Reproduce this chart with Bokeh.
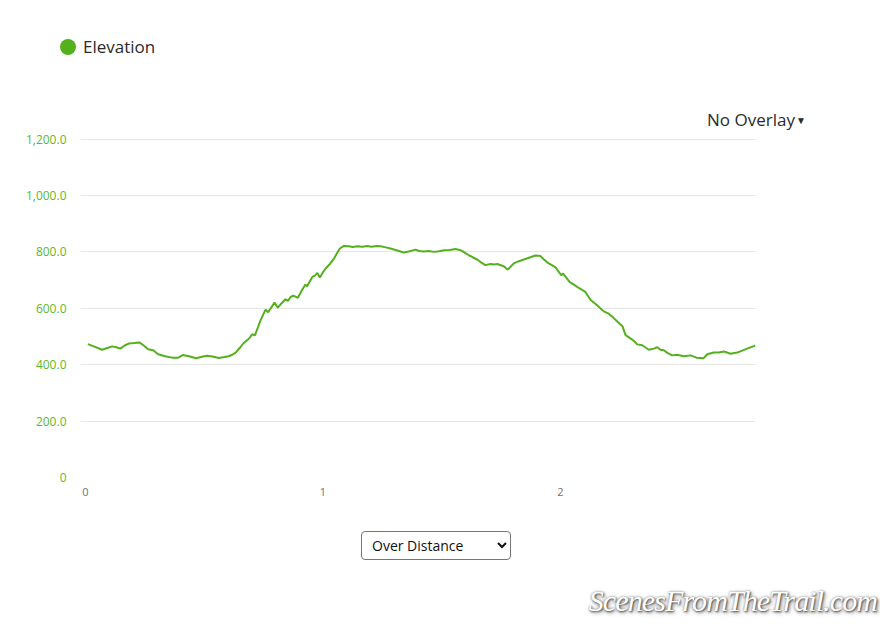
from bokeh.plotting import figure
from bokeh.layouts import column
from bokeh.models import Range1d, FixedTicker, ColumnDataSource, Div
from bokeh.embed import file_html
from bokeh.resources import INLINE

# ---- data ----
distance_km = [0.010, 0.040, 0.070, 0.095, 0.112, 0.130, 0.147, 0.165, 0.182, 0.205,
               0.227, 0.245, 0.264, 0.285, 0.306, 0.335, 0.365, 0.390, 0.410, 0.440,
               0.466, 0.490, 0.512, 0.540, 0.561, 0.585, 0.603, 0.620, 0.632, 0.650,
               0.665, 0.688, 0.702, 0.713, 0.725, 0.737, 0.758, 0.769, 0.784, 0.796,
               0.810, 0.826, 0.842, 0.852, 0.864, 0.875, 0.894, 0.910, 0.926, 0.933,
               0.955, 0.966, 0.976, 0.987, 1.000, 1.011, 1.030, 1.046, 1.060, 1.071,
               1.088, 1.110, 1.125, 1.144, 1.165, 1.186, 1.205, 1.225, 1.242, 1.265,
               1.284, 1.310, 1.340, 1.365, 1.389, 1.405, 1.424, 1.445, 1.467, 1.490,
               1.509, 1.535, 1.558, 1.579, 1.595, 1.614, 1.630, 1.649, 1.665, 1.684,
               1.705, 1.720, 1.734, 1.761, 1.778, 1.803, 1.825, 1.846, 1.870, 1.895,
               1.916, 1.930, 1.945, 1.962, 1.979, 2.003, 2.011, 2.025, 2.039, 2.058,
               2.077, 2.105, 2.126, 2.154, 2.182, 2.203, 2.222, 2.240, 2.261, 2.274,
               2.302, 2.323, 2.344, 2.372, 2.393, 2.407, 2.421, 2.435, 2.450, 2.470,
               2.491, 2.519, 2.547, 2.573, 2.603, 2.618, 2.645, 2.667, 2.688, 2.716,
               2.744, 2.765, 2.786, 2.805, 2.820]
elevation_m = [473, 463, 453, 460, 465, 462, 457, 468, 475, 477,
               479, 468, 455, 451, 437, 430, 425, 425, 434, 429,
               423, 428, 432, 428, 424, 427, 430, 436, 443, 460,
               476, 492, 508, 504, 530, 557, 595, 586, 605, 620,
               602, 618, 632, 626, 640, 645, 637, 662, 684, 678,
               711, 716, 725, 709, 728, 741, 758, 776, 797, 812,
               821, 820, 817, 820, 818, 821, 818, 821, 820, 816,
               812, 806, 798, 802, 808, 803, 801, 803, 800, 802,
               806, 807, 810, 806, 798, 788, 781, 773, 763, 753,
               757, 755, 757, 749, 737, 759, 767, 773, 780, 787,
               785, 773, 762, 754, 745, 717, 723, 708, 693, 683,
               672, 658, 630, 611, 589, 581, 567, 552, 536, 505,
               489, 472, 469, 453, 457, 462, 453, 451, 442, 433,
               435, 430, 433, 425, 423, 437, 443, 443, 447, 439,
               443, 450, 457, 463, 467]

y_ticks = [0, 200, 400, 600, 800, 1000, 1200]
y_tick_labels = ["0", "200.0", "400.0", "600.0", "800.0", "1,000.0", "1,200.0"]
x_ticks = [0, 1, 2]
x_tick_labels = ["0", "1", "2"]
series_name = "Elevation"
overlay_text = "No Overlay"
select_text = "Over Distance"
watermark_text = "ScenesFromTheTrail.com"

GREEN = "#55b01d"
LABEL_GREEN = "#5cb82a"
W = 880

# ---------- header: legend + overlay menu ----------
HEAD_H = 130
head_html = f"""
<div style="position:relative;width:{W}px;height:{HEAD_H}px;font-family:'Open Sans',sans-serif;overflow:hidden;">
  <span style="position:absolute;left:60px;top:39px;width:16px;height:16px;border-radius:50%;background:{GREEN};"></span>
  <span style="position:absolute;left:83px;top:36px;font-size:17px;line-height:22px;color:#2a2a2a;white-space:nowrap;">{series_name}</span>
  <span style="position:absolute;left:707px;top:109px;font-size:17px;line-height:22px;color:#2a2a2a;white-space:nowrap;">{overlay_text}<span style="font-size:10px;vertical-align:2px;margin-left:1px;">&#9660;</span></span>
</div>
"""
head = Div(text=head_html, width=W, height=HEAD_H, margin=0)

# ---------- main chart ----------
MAIN_H = 380
FRAME_TOP = 138 - HEAD_H
FRAME_H = 477 - 138
p = figure(width=W, height=MAIN_H, output_backend="svg", toolbar_location=None,
           x_range=Range1d(-0.021, 2.821), y_range=Range1d(0, 1202),
           min_border_left=80, min_border_right=W - 80 - 675,
           min_border_top=FRAME_TOP, min_border_bottom=MAIN_H - FRAME_TOP - FRAME_H,
           margin=0)
p.outline_line_color = None
p.background_fill_color = "white"
p.border_fill_color = "white"

src = ColumnDataSource(dict(d=distance_km, e=elevation_m))
p.line("d", "e", source=src, line_color=GREEN, line_width=2)

p.xgrid.visible = False
p.ygrid.ticker = FixedTicker(ticks=y_ticks)
p.ygrid.grid_line_color = "#e6e6e6"
p.ygrid.grid_line_width = 1

ya = p.yaxis[0]
ya.ticker = FixedTicker(ticks=y_ticks)
ya.major_label_overrides = {t: l for t, l in zip(y_ticks, y_tick_labels)}
ya.axis_line_color = None
ya.major_tick_line_color = None
ya.minor_tick_line_color = None
ya.major_tick_out = 0
ya.major_tick_in = 0
ya.major_label_standoff = 14
ya.major_label_text_color = LABEL_GREEN
ya.major_label_text_font = "Open Sans"
ya.major_label_text_font_size = "12px"

xa = p.xaxis[0]
xa.ticker = FixedTicker(ticks=x_ticks)
xa.major_label_overrides = {t: l for t, l in zip(x_ticks, x_tick_labels)}
xa.axis_line_color = None
xa.major_tick_line_color = None
xa.minor_tick_line_color = None
xa.major_tick_out = 0
xa.major_tick_in = 0
xa.major_label_standoff = 10
xa.major_label_text_color = "#707070"
xa.major_label_text_font = "Open Sans"
xa.major_label_text_font_size = "11px"

# ---------- footer: select box + watermark ----------
FOOT_H = 115
FOOT_TOP = HEAD_H + MAIN_H
foot_html = f"""
<div style="position:relative;width:{W}px;height:{FOOT_H}px;overflow:hidden;">
  <select style="position:absolute;left:361px;top:{531 - FOOT_TOP}px;width:150px;height:29px;
                 font-family:'Open Sans',sans-serif;font-size:14px;color:#111111;background:#ffffff;
                 border:1px solid #767676;border-radius:4px;padding:0 0 0 6px;box-sizing:border-box;">
    <option>{select_text}</option>
  </select>
  <span style="position:absolute;right:3px;top:{601 - 21 - FOOT_TOP}px;line-height:42px;
               font-family:'Liberation Serif',serif;font-style:italic;font-size:30px;color:#ffffff;
               letter-spacing:-0.9px;white-space:nowrap;
               text-shadow:1px 1px 2px #555555, 0 0 3px #888888, 2px 2px 4px #999999;">{watermark_text}</span>
</div>
"""
foot = Div(text=foot_html, width=W, height=FOOT_H, margin=0)

layout = column(head, p, foot, spacing=0)
open("out.html", "w").write(file_html(layout, INLINE))
